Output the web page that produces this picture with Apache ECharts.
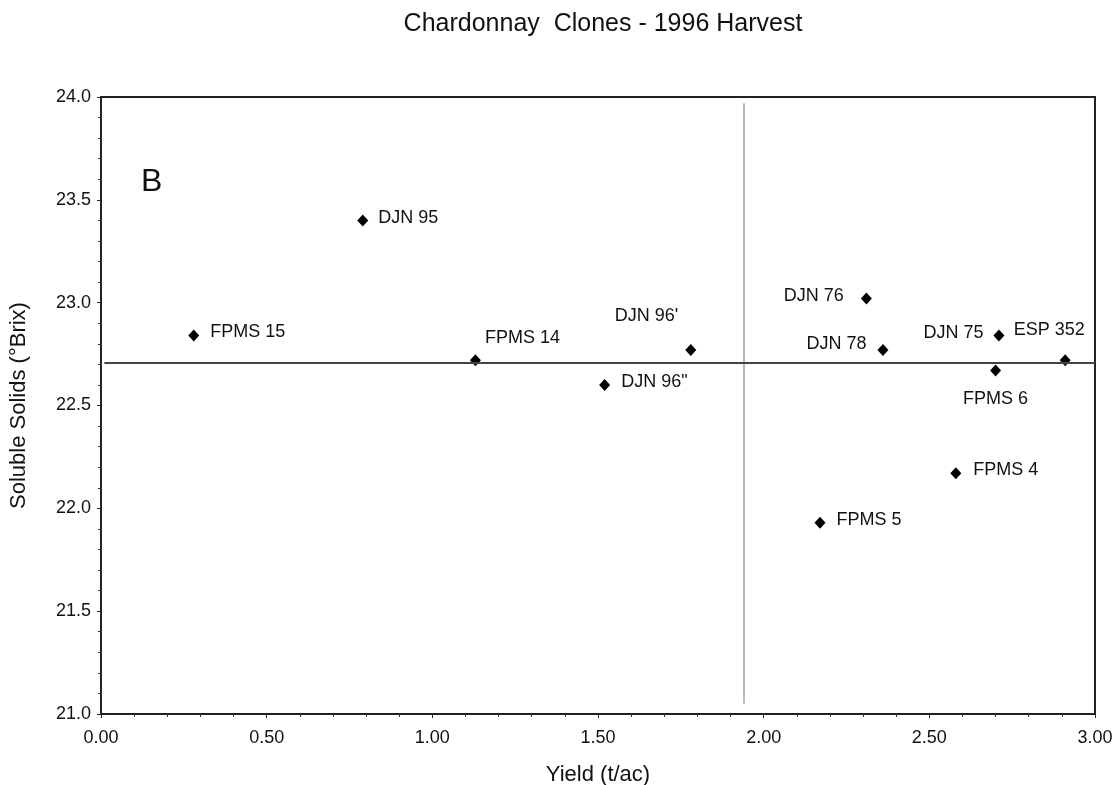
<!DOCTYPE html>
<html>
<head>
<meta charset="utf-8">
<title>Chardonnay Clones - 1996 Harvest</title>
<script src="https://cdn.jsdelivr.net/npm/echarts@6/dist/echarts.min.js"></script>
<style>
  html, body { margin: 0; padding: 0; background: #fff; }
  #chart { width: 1118px; height: 785px; }
</style>
</head>
<body>
<div id="chart"></div>
<script>
// Clone names, yield (t/ac) and soluble solids (°Brix)
const clones = ['FPMS 15', 'DJN 95', 'FPMS 14', "DJN 96'", 'DJN 96"', 'DJN 76', 'DJN 78', 'DJN 75', 'ESP 352', 'FPMS 6', 'FPMS 4', 'FPMS 5'];
const yieldValues = [0.28, 0.79, 1.13, 1.78, 1.52, 2.31, 2.36, 2.71, 2.91, 2.70, 2.58, 2.17];
const solubleSolids = [22.84, 23.40, 22.72, 22.77, 22.60, 23.02, 22.77, 22.84, 22.72, 22.67, 22.17, 21.93];

// Mean reference lines
const meanYield = 1.94;
const meanSolids = 22.71;

// Axis tick values
const xTicks = [0, 0.5, 1, 1.5, 2, 2.5, 3];
const yTicks = [21, 21.5, 22, 22.5, 23, 23.5, 24];

const FONT = '"Liberation Sans", Arial, sans-serif';
const INK = '#111';

// Label placement for each clone name
const labelPlacement = {
  'FPMS 15': { position: 'right', distance: 11, offset: [0, -4] },
  'DJN 95':  { position: 'right', distance: 10, offset: [0, -2] },
  'FPMS 14': { position: 'right', distance: 4, offset: [0, -22] },
  "DJN 96'": { position: 'left', distance: 7, offset: [0, -34] },
  'DJN 96"': { position: 'right', distance: 11, offset: [0, -3] },
  'DJN 76':  { position: 'left', distance: 17, offset: [0, -3] },
  'DJN 78':  { position: 'left', distance: 11, offset: [0, -6] },
  'DJN 75':  { position: 'left', distance: 10, offset: [0, -3] },
  'ESP 352': { position: 'top', distance: 15, offset: [-16, 0] },
  'FPMS 6':  { position: 'bottom', distance: 13, offset: [0, 0] },
  'FPMS 4':  { position: 'right', distance: 12, offset: [0, -3] },
  'FPMS 5':  { position: 'right', distance: 11, offset: [0, -3] }
};

const points = clones.map((name, i) => {
  const p = labelPlacement[name];
  return {
    name: name,
    value: [yieldValues[i], solubleSolids[i]],
    label: { show: true, formatter: name, position: p.position, distance: p.distance, offset: p.offset }
  };
});

const chart = echarts.init(document.getElementById('chart'), null, { renderer: 'canvas' });

chart.setOption({
  backgroundColor: '#fff',
  animation: false,
  title: {
    text: 'Chardonnay  Clones - 1996 Harvest',
    left: 598,
    textAlign: 'center',
    top: 7,
    textStyle: { fontFamily: FONT, fontSize: 25, fontWeight: 'normal', color: INK }
  },
  graphic: [{
    type: 'text',
    left: 141,
    top: 166,
    style: { text: 'B', fontFamily: FONT, fontSize: 32, fill: INK }
  }],
  grid: {
    left: 101, right: 23, top: 97, bottom: 71,
    outerBoundsMode: 'none',
    containLabel: false,
    show: true, borderColor: '#222', borderWidth: 2, backgroundColor: 'transparent'
  },
  xAxis: {
    type: 'value',
    min: xTicks[0],
    max: xTicks[xTicks.length - 1],
    interval: 0.5,
    name: 'Yield (t/ac)',
    nameLocation: 'middle',
    nameGap: 50,
    nameTextStyle: { fontFamily: FONT, fontSize: 22, color: INK },
    axisLine: { show: true, lineStyle: { color: '#222', width: 2 } },
    axisTick: { show: true, inside: false, length: 4, lineStyle: { color: '#222' } },
    minorTick: { show: true, splitNumber: 5, length: 3, lineStyle: { color: '#333' } },
    splitLine: { show: false },
    axisLabel: {
      fontFamily: FONT, fontSize: 18, color: INK, margin: 15,
      formatter: v => v.toFixed(2)
    }
  },
  yAxis: {
    type: 'value',
    min: yTicks[0],
    max: yTicks[yTicks.length - 1],
    interval: 0.5,
    name: 'Soluble Solids (°Brix)',
    nameLocation: 'middle',
    nameGap: 71,
    nameTextStyle: { fontFamily: FONT, fontSize: 22, color: INK },
    axisLine: { show: true, lineStyle: { color: '#222', width: 2 } },
    axisTick: { show: true, inside: false, length: 4, lineStyle: { color: '#222' } },
    minorTick: { show: true, splitNumber: 5, length: 3, lineStyle: { color: '#333' } },
    splitLine: { show: false },
    axisLabel: {
      fontFamily: FONT, fontSize: 18, color: INK, margin: 10,
      formatter: v => v.toFixed(1)
    }
  },
  series: [{
    type: 'scatter',
    symbol: 'diamond',
    symbolSize: [11, 12],
    itemStyle: { color: '#000', opacity: 1 },
    label: { fontFamily: FONT, fontSize: 18, color: INK },
    data: points,
    markLine: {
      silent: true,
      symbol: 'none',
      label: { show: false },
      data: [
        [
          { coord: [meanYield, 23.97], lineStyle: { color: '#a0a0a0', width: 1.5, type: 'solid' } },
          { coord: [meanYield, 21.05] }
        ],
        [
          { coord: [0.01, meanSolids], lineStyle: { color: '#444', width: 2, type: 'solid' } },
          { coord: [3, meanSolids] }
        ]
      ]
    }
  }]
});
</script>
</body>
</html>
